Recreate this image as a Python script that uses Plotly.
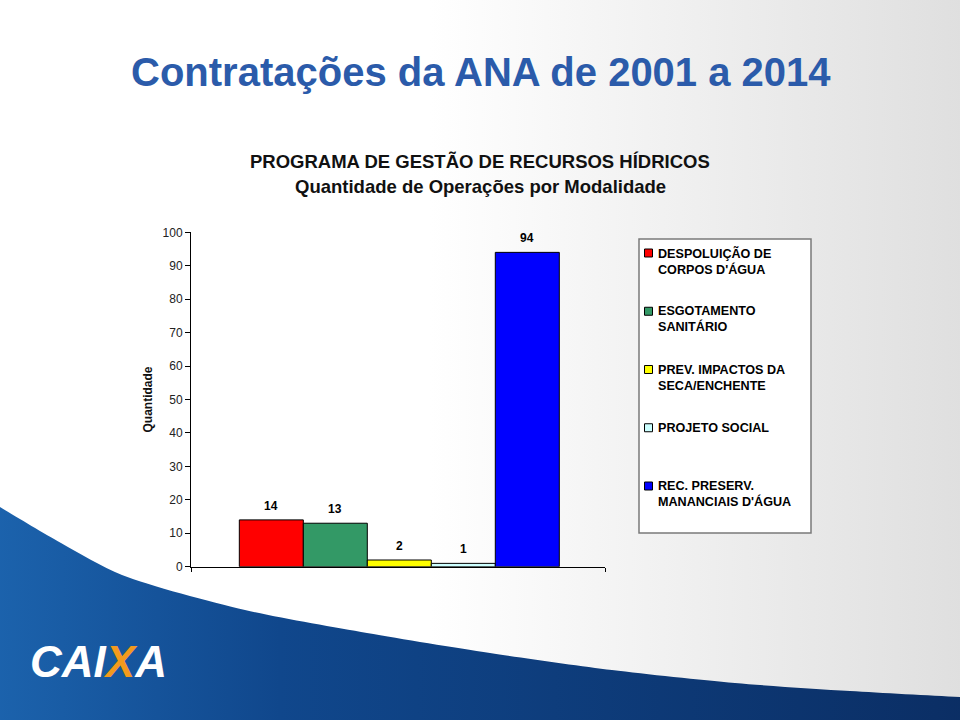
import plotly.graph_objects as go

# ---------------- data ----------------
categories = [
    "DESPOLUIÇÃO DE CORPOS D'ÁGUA",
    "ESGOTAMENTO SANITÁRIO",
    "PREV. IMPACTOS DA SECA/ENCHENTE",
    "PROJETO SOCIAL",
    "REC. PRESERV. MANANCIAIS D'ÁGUA",
]
legend_labels = [
    "DESPOLUIÇÃO DE<br>CORPOS D'ÁGUA",
    "ESGOTAMENTO<br>SANITÁRIO",
    "PREV. IMPACTOS DA<br>SECA/ENCHENTE",
    "PROJETO SOCIAL",
    "REC. PRESERV.<br>MANANCIAIS D'ÁGUA",
]
values = [14, 13, 2, 1, 94]
bar_colors = ["#FF0000", "#339966", "#FFFF00", "#CCFFFF", "#0000FF"]
y_ticks = list(range(0, 101, 10))

title_text = "Contratações da ANA de 2001 a 2014"
subtitle1 = "PROGRAMA DE GESTÃO DE RECURSOS HÍDRICOS"
subtitle2 = "Quantidade de Operações por Modalidade"
y_title = "Quantidade"

# ---------------- layout constants ----------------
W, H = 960, 720
FONT = "Liberation Sans, Arial, sans-serif"
X_MIN, X_MAX = -1.255, 5.214

fig = go.Figure()

# background (pixel-coordinate subplot on x/y)
fig.add_trace(go.Scatter(
    x=[-20, 980, 980, -20, -20], y=[-20, -20, 740, 740, -20],
    fill="toself", mode="none", hoverinfo="skip", showlegend=False,
    fillgradient=dict(type="horizontal",
                      colorscale=[[0, "#ffffff"], [0.45, "#ffffff"], [1, "#dedede"]]),
    xaxis="x", yaxis="y",
))
swoosh_x = [-60, 0, 61, 122, 245, 367, 490, 612, 735, 850, 960, 1060, 1060, -60]
swoosh_y = [470, 507, 543, 575, 610, 633, 653, 670, 683, 691, 697, 702, 800, 800]
fig.add_trace(go.Scatter(
    x=swoosh_x, y=swoosh_y,
    fill="toself", mode="lines", line=dict(width=0, shape="spline", smoothing=0.8),
    hoverinfo="skip", showlegend=False,
    fillgradient=dict(type="horizontal",
                      colorscale=[[0, "#1e68b3"], [0.3, "#10478c"], [1, "#0a2a5e"]]),
    xaxis="x", yaxis="y",
))

# bars
for i, (name, v, col) in enumerate(zip(categories, values, bar_colors)):
    fig.add_trace(go.Bar(
        x=[i], y=[v], width=1, name=name, showlegend=False,
        marker=dict(color=col, line=dict(color="#000000", width=1)),
        xaxis="x2", yaxis="y2", hoverinfo="y",
    ))

annotations = []
# bar value labels
for i, v in enumerate(values):
    annotations.append(dict(
        x=i, y=v, xref="x2", yref="y2", text=f"<b>{v}</b>", showarrow=False,
        yanchor="middle", yshift=14, font=dict(family=FONT, size=12, color="#000000"),
    ))

# titles
annotations += [
    dict(x=480.5, y=72, xref="x", yref="y", text=f"<b>{title_text}</b>", showarrow=False,
         font=dict(family=FONT, size=40, color="#2B5BAA"), xanchor="center", yanchor="middle"),
    dict(x=480, y=161.5, xref="x", yref="y", text=f"<b>{subtitle1}</b>", showarrow=False,
         font=dict(family=FONT, size=18.5, color="#111111"), xanchor="center", yanchor="middle"),
    dict(x=480, y=186, xref="x", yref="y", text=f"<b>{subtitle2}</b>", showarrow=False,
         font=dict(family=FONT, size=18.5, color="#111111"), xanchor="center", yanchor="middle"),
    dict(x=147, y=399.5, xref="x", yref="y", text=f"<b>{y_title}</b>", showarrow=False,
         textangle=-90, font=dict(family=FONT, size=12, color="#111111"),
         xanchor="center", yanchor="middle"),
    dict(x=98, y=661, xref="x", yref="y",
         text="<b><i>CAI<span style='color:#F39A1E'>X</span>A</i></b>", showarrow=False,
         font=dict(family=FONT, size=44, color="#ffffff"), xanchor="center", yanchor="middle"),
]

# manual legend
shapes = [dict(type="rect", xref="x", yref="y", x0=639, x1=811, y0=239, y1=533,
               line=dict(color="#7a7a7a", width=1.5), fillcolor="#ffffff", layer="above")]
entry_y0, entry_dy = 253, 58.25
for i, (lab, col) in enumerate(zip(legend_labels, bar_colors)):
    cy = entry_y0 + i * entry_dy
    shapes.append(dict(type="rect", xref="x", yref="y", x0=644.5, x1=652.5, y0=cy - 4, y1=cy + 4,
                       line=dict(color="#000000", width=1), fillcolor=col, layer="above"))
    annotations.append(dict(x=656, y=cy - 9, xref="x", yref="y", text=f"<b>{lab}</b>",
                            showarrow=False, xanchor="left", yanchor="top", align="left",
                            font=dict(family=FONT, size=12.6, color="#000000")))

fig.update_layout(
    template="none",
    width=W, height=H,
    margin=dict(l=0, r=0, t=0, b=0, pad=0, autoexpand=False),
    paper_bgcolor="#ffffff", plot_bgcolor="rgba(0,0,0,0)",
    barmode="overlay", showlegend=False,
    font=dict(family=FONT),
    xaxis=dict(domain=[0, 1], range=[0, W], visible=False, fixedrange=True, automargin=False),
    yaxis=dict(domain=[0, 1], range=[H, 0], visible=False, fixedrange=True, automargin=False),
    xaxis2=dict(
        domain=[191 / W, 605 / W], range=[X_MIN, X_MAX], anchor="y2", automargin=False,
        showline=True, linecolor="#000000", linewidth=1,
        tickmode="array", tickvals=[X_MIN, X_MAX], ticks="outside", ticklen=4,
        tickcolor="#000000", showticklabels=False, showgrid=False, zeroline=False,
    ),
    yaxis2=dict(
        domain=[1 - 566.7 / H, 1 - 232.3 / H], range=[0, 100], anchor="x2", automargin=False,
        showline=True, linecolor="#000000", linewidth=1,
        tickmode="array", tickvals=y_ticks, ticks="outside", ticklen=5,
        tickcolor="#000000", tickfont=dict(family=FONT, size=12, color="#222222"),
        showgrid=False, zeroline=False,
    ),
    annotations=annotations,
    shapes=shapes,
)

fig.write_html("out.html", config={"displayModeBar": False},
               post_script=["document.body.style.margin='0';document.body.style.overflow='hidden';"])
